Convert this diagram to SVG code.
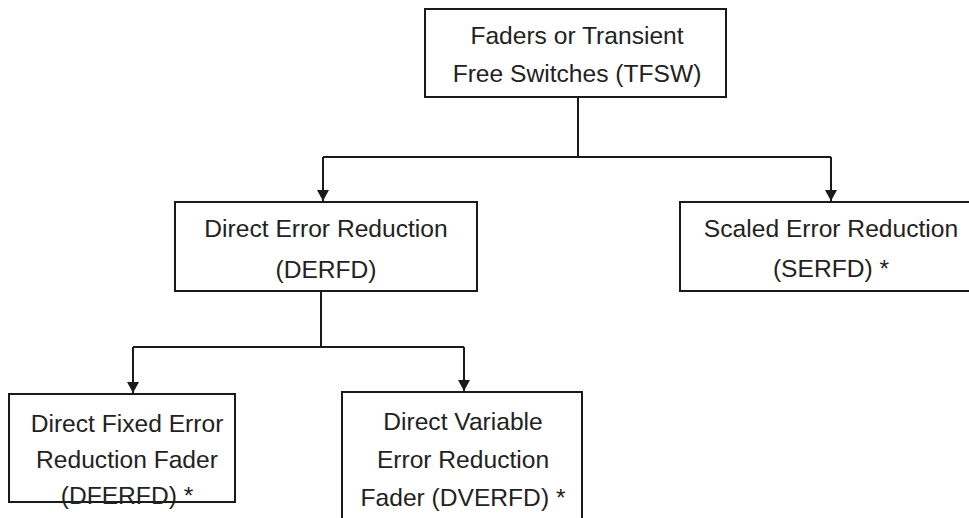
<svg xmlns="http://www.w3.org/2000/svg" width="969" height="518" viewBox="0 0 969 518">
  <style>
    .box { fill: #ffffff; stroke: #1a1a1a; stroke-width: 2; }
    .lbl { font-family: "Liberation Sans", Arial, sans-serif; font-size: 24.6px; fill: #222222; text-anchor: middle; }
    .wire { fill: none; stroke: #1a1a1a; stroke-width: 2; }
  </style>
  <defs>
    <!-- filled triangular head; tip sits at the end of the line -->
    <marker id="arrow" viewBox="0 0 11 12" refX="11" refY="6" markerWidth="11" markerHeight="12" markerUnits="userSpaceOnUse" orient="auto">
      <path d="M0,0 L11,6 L0,12 Z" fill="#1a1a1a"/>
    </marker>
  </defs>
  <rect width="969" height="518" fill="#ffffff"/>

  <g id="connectors">
    <!-- root to second level -->
    <path class="wire" d="M578,97 V157"/>
    <path class="wire" d="M323,157 H831"/>
    <path class="wire" d="M323,157 V201" marker-end="url(#arrow)"/>
    <path class="wire" d="M831,157 V201" marker-end="url(#arrow)"/>
    <!-- DERFD to third level -->
    <path class="wire" d="M321,291 V347"/>
    <path class="wire" d="M133,347 H464"/>
    <path class="wire" d="M133,347 V393" marker-end="url(#arrow)"/>
    <path class="wire" d="M464,347 V391" marker-end="url(#arrow)"/>
  </g>

  <g id="tfsw">
    <rect class="box" x="425" y="9" width="301" height="88"/>
    <text class="lbl" x="577" y="44">Faders or Transient</text>
    <text class="lbl" x="577" y="82">Free Switches (TFSW)</text>
  </g>

  <g id="derfd">
    <rect class="box" x="175" y="202" width="302" height="89"/>
    <text class="lbl" x="326" y="237">Direct Error Reduction</text>
    <text class="lbl" x="326" y="278">(DERFD)</text>
  </g>

  <g id="serfd">
    <rect class="box" x="680" y="202" width="305" height="89"/>
    <text class="lbl" x="831" y="237">Scaled Error Reduction</text>
    <text class="lbl" x="831" y="277">(SERFD) *</text>
  </g>

  <g id="dferfd">
    <rect class="box" x="9" y="394" width="226" height="108"/>
    <text class="lbl" x="127" y="432">Direct Fixed Error</text>
    <text class="lbl" x="127" y="468">Reduction Fader</text>
    <text class="lbl" x="127" y="504">(DFERFD) *</text>
  </g>

  <g id="dverfd">
    <rect class="box" x="342" y="392" width="240" height="140"/>
    <text class="lbl" x="463" y="430">Direct Variable</text>
    <text class="lbl" x="463" y="468">Error Reduction</text>
    <text class="lbl" x="463" y="506">Fader (DVERFD) *</text>
  </g>
</svg>
